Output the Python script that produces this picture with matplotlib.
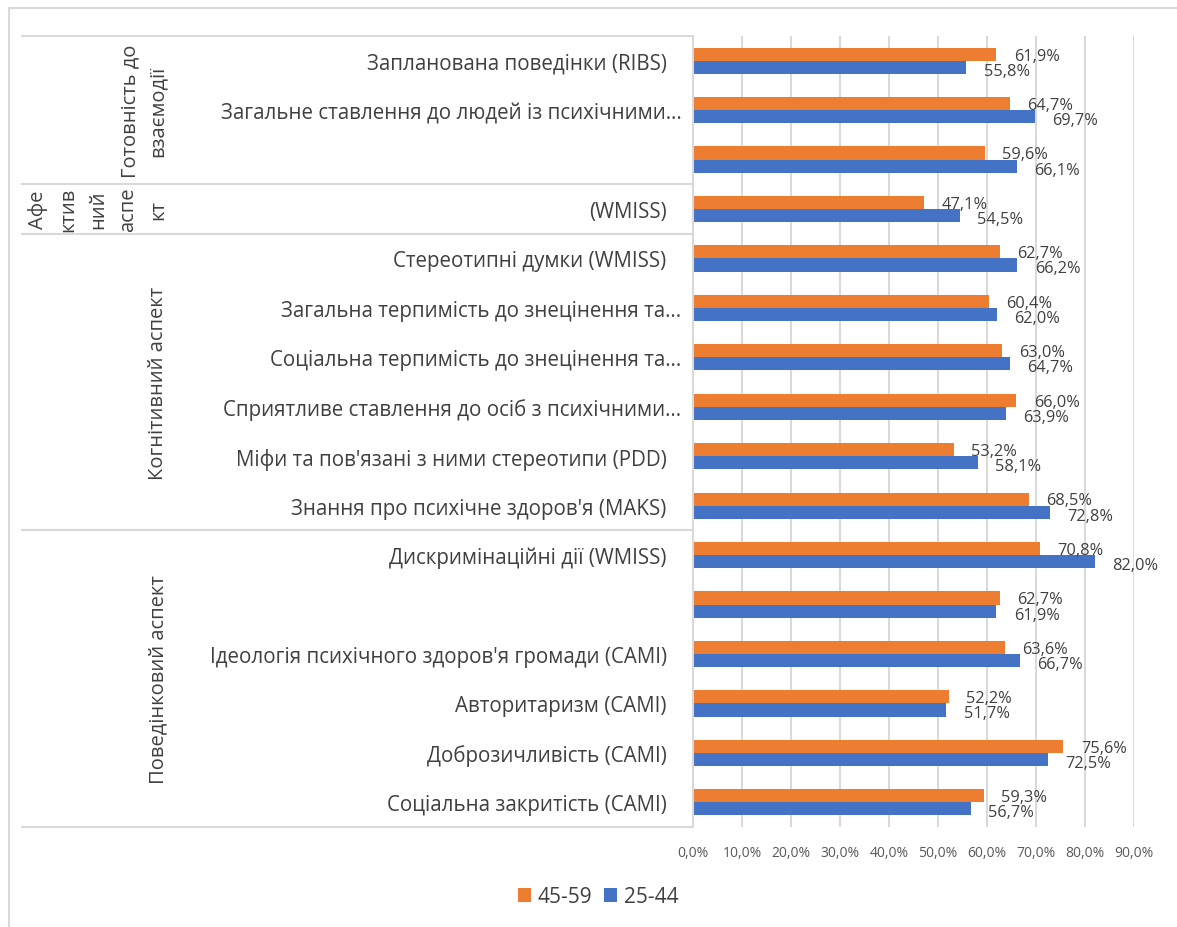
import matplotlib
matplotlib.use("Agg")
import matplotlib.pyplot as plt
from matplotlib.lines import Line2D
from matplotlib.patches import Rectangle
import matplotlib.transforms as mtransforms
import numpy as np

plt.rcParams['font.family'] = ['Open Sans', 'DejaVu Sans']

# Categories from bottom to top
categories = [
    "Соціальна закритість (CAMI)",
    "Доброзичливість (CAMI)",
    "Авторитаризм (CAMI)",
    "Ідеологія психічного здоров'я громади (CAMI)",
    "",
    "Дискримінаційні дії (WMISS)",
    "Знання про психічне здоров'я (MAKS)",
    "Міфи та пов'язані з ними стереотипи (PDD)",
    "Сприятливе ставлення до осіб з психічними…",
    "Соціальна терпимість до знецінення та…",
    "Загальна терпимість до знецінення та…",
    "Стереотипні думки (WMISS)",
    "(WMISS)",
    "",
    "Загальне ставлення до людей із психічними…",
    "Запланована поведінки (RIBS)",
]
series_45_59 = [59.3, 75.6, 52.2, 63.6, 62.7, 70.8, 68.5, 53.2, 66.0, 63.0, 60.4, 62.7, 47.1, 59.6, 64.7, 61.9]
series_25_44 = [56.7, 72.5, 51.7, 66.7, 61.9, 82.0, 72.8, 58.1, 63.9, 64.7, 62.0, 66.2, 54.5, 66.1, 69.7, 55.8]
series_names = ["45-59", "25-44"]

# Groups: (label, first index, last index)
groups = [
    ("Поведінковий аспект", 0, 5),
    ("Когнітивний аспект", 6, 11),
    ("Афе\nктив\nний\nаспе\nкт", 12, 12),
    ("Готовність до\nвзаємодії", 13, 15),
]
xticks = [0, 10, 20, 30, 40, 50, 60, 70, 80, 90]
xtick_labels = ["0,0%", "10,0%", "20,0%", "30,0%", "40,0%", "50,0%", "60,0%", "70,0%", "80,0%", "90,0%"]

ORANGE = "#ED7D31"
BLUE = "#4472C4"
GRID = "#D9D9D9"
TXT = "#404040"

W, H = 1177, 928
fig = plt.figure(figsize=(W / 100, H / 100), dpi=100)
fig.patch.set_facecolor("white")

# outer border
fig.add_artist(Rectangle((8.5 / W, -0.01), 1.1, 1 - 8.5 / H + 0.01, transform=fig.transFigure,
                         fill=False, edgecolor=GRID, linewidth=1.5))

ax_left, ax_right = 693 / W, 1134 / W
ax_top, ax_bot = 1 - 37 / H, 1 - 828 / H
ax = fig.add_axes([ax_left, ax_bot, ax_right - ax_left, ax_top - ax_bot])

n = len(categories)
y = np.arange(n)
bh = 0.265
ax.barh(y + bh / 2, series_45_59, height=bh, color=ORANGE, label=series_names[0], zorder=3)
ax.barh(y - bh / 2, series_25_44, height=bh, color=BLUE, label=series_names[1], zorder=3)

for i in range(n):
    ax.annotate(f"{series_45_59[i]:.1f}%".replace(".", ","), (series_45_59[i], y[i] + bh / 2),
                xytext=(12.5, -1), textcoords="offset points", va="center", ha="left",
                fontsize=11.8, color=TXT, zorder=4)
    ax.annotate(f"{series_25_44[i]:.1f}%".replace(".", ","), (series_25_44[i], y[i] - bh / 2),
                xytext=(12.5, -2.5), textcoords="offset points", va="center", ha="left",
                fontsize=11.8, color=TXT, zorder=4)

ax.set_xlim(0, 90)
ax.set_ylim(-0.5, n - 0.5)
ax.set_xticks(xticks)
ax.set_xticklabels(xtick_labels, fontsize=10, color="#595959")
ax.set_yticks(y)
ax.set_yticklabels(categories, fontsize=14.8, color=TXT)
ax.tick_params(axis="y", length=0, pad=19)
ax.tick_params(axis="x", length=0, pad=13)
ax.grid(axis="x", color=GRID, linewidth=1.5, zorder=0)
for s in ["top", "right", "bottom"]:
    ax.spines[s].set_visible(False)
ax.spines["left"].set_color(GRID)
ax.spines["left"].set_linewidth(1.5)
ax.spines["left"].set_zorder(5)

# truncated labels sit slightly further right (ellipsis overhangs)
shift = mtransforms.ScaledTranslation(15 / 100, 0, fig.dpi_scale_trans)
for t in ax.get_yticklabels():
    if t.get_text().endswith("…"):
        t.set_transform(t.get_transform() + shift)

# group separator lines and labels
trans = mtransforms.blended_transform_factory(fig.transFigure, ax.transData)
bounds = [-0.5, 5.5, 11.5, 12.5, 15.5]
for b in bounds:
    fig.add_artist(Line2D([22 / W, ax_left], [b, b], transform=trans, color=GRID, linewidth=1.5))

label_x = {0: 158, 1: 158, 2: 98, 3: 144}
label_ls = {0: 1.2, 1: 1.2, 2: 1.68, 3: 1.48}
for gi, (lab, a, b) in enumerate(groups):
    yc = (a + b) / 2
    fig.text(label_x[gi] / W, yc, lab, transform=trans, rotation=90, ha="center", va="center",
             multialignment="center", fontsize=14.5, color=TXT, linespacing=label_ls[gi])

handles, labels = ax.get_legend_handles_labels()
fig.legend(handles, labels, loc="center", bbox_to_anchor=(598 / W, 1 - 898 / H), ncol=2,
           frameon=False, fontsize=15, labelcolor=TXT, handlelength=0.65, handleheight=0.65,
           handletextpad=0.3, columnspacing=0.55)

fig.savefig("out.png", dpi=100)
